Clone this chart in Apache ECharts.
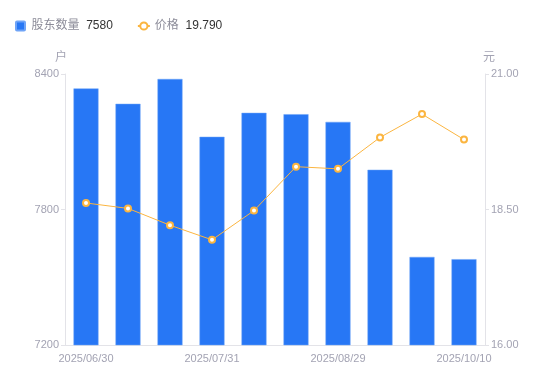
<!DOCTYPE html>
<html>
<head>
<meta charset="utf-8">
<script src="https://cdn.jsdelivr.net/npm/echarts@6/dist/echarts.min.js"></script>
<style>
  html, body { margin: 0; padding: 0; background: #fff; }
  #chart { width: 550px; height: 381px; }
</style>
</head>
<body>
<div id="chart"></div>
<script>
// 日期
const dates = ['2025/06/30', '2025/07/10', '2025/07/18', '2025/07/31', '2025/08/08',
  '2025/08/20', '2025/08/29', '2025/09/15', '2025/09/30', '2025/10/10'];
// 股东数量 (户)
const holders = [8336, 8268, 8378, 8122, 8228, 8222, 8188, 7976, 7590, 7580];
// 价格 (元)
const prices = [18.62, 18.52, 18.21, 17.94, 18.48, 19.29, 19.25, 19.83, 20.26, 19.79];

const fontFam = '"Liberation Sans", "Noto Sans CJK SC", sans-serif';
const latest = {
  '股东数量': holders[holders.length - 1],
  '价格': prices[prices.length - 1].toFixed(3)
};

const chart = echarts.init(document.getElementById('chart'));
chart.setOption({
  animation: false,
  textStyle: { fontFamily: fontFam },
  color: ['#2777f5', '#fbb540'],
  legend: {
    left: 10,
    top: 15,
    itemWidth: 12,
    itemHeight: 9,
    itemGap: 24,
    symbolKeepAspect: true,
    data: [{ name: '股东数量', icon: 'path://M1,0H8Q9,0 9,1V8Q9,9 8,9H1Q0,9 0,8V1Q0,0 1,0Z' }, { name: '价格' }],
    formatter: function (name) {
      return '{n|' + name + '}  {v|' + latest[name] + '}';
    },
    textStyle: {
      rich: {
        n: { color: '#8c8c99', fontSize: 12, fontFamily: fontFam },
        v: { color: '#333', fontSize: 12, fontFamily: fontFam }
      }
    }
  },
  grid: { left: 65, right: 65, top: 74, bottom: 36 },
  xAxis: {
    type: 'category',
    data: dates,
    axisLine: { lineStyle: { color: '#e3e3e8' } },
    axisTick: { show: false },
    axisLabel: { interval: 2, color: '#a3a3b3', fontSize: 11, margin: 8 }
  },
  yAxis: [
    {
      type: 'value',
      name: '户',
      nameGap: 10,
      nameTextStyle: { color: '#a3a3b3', fontSize: 12, padding: [0, 8, 0, 0] },
      min: 7200, max: 8400, interval: 600,
      axisLine: { show: true, lineStyle: { color: '#e3e3e8' } },
      axisTick: { show: true, length: 4, lineStyle: { color: '#e3e3e8' } },
      axisLabel: { color: '#a3a3b3', fontSize: 11, margin: 6,
        formatter: function (v) { return String(v); } },
      splitLine: { show: false }
    },
    {
      type: 'value',
      name: '元',
      nameGap: 10,
      nameTextStyle: { color: '#a3a3b3', fontSize: 12, padding: [0, 0, 0, 8] },
      min: 16, max: 21, interval: 2.5,
      axisLine: { show: true, lineStyle: { color: '#e3e3e8' } },
      axisTick: { show: true, length: 4, lineStyle: { color: '#e3e3e8' } },
      axisLabel: { color: '#a3a3b3', fontSize: 11, margin: 6,
        formatter: function (v) { return v.toFixed(2); } },
      splitLine: { show: false }
    }
  ],
  series: [
    {
      name: '股东数量',
      type: 'bar',
      yAxisIndex: 0,
      barWidth: 25,
      data: holders,
      itemStyle: { color: '#2777f5', borderColor: '#6fa4f7', borderWidth: 0.5 }
    },
    {
      name: '价格',
      type: 'line',
      yAxisIndex: 1,
      data: prices,
      symbol: 'emptyCircle',
      symbolSize: 6,
      lineStyle: { width: 1, color: '#fbb540' },
      itemStyle: { color: '#fbb540', borderWidth: 2 }
    }
  ]
});
</script>
</body>
</html>
